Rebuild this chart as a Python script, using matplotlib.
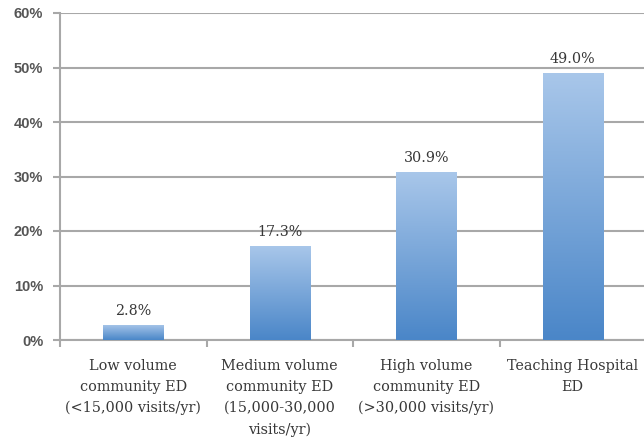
import numpy as np
import matplotlib
matplotlib.use("Agg")
import matplotlib.pyplot as plt
from matplotlib.colors import LinearSegmentedColormap

# ED categories and share of visits (%)
categories = [
    "Low volume\ncommunity ED\n(<15,000 visits/yr)",
    "Medium volume\ncommunity ED\n(15,000-30,000\nvisits/yr)",
    "High volume\ncommunity ED\n(>30,000 visits/yr)",
    "Teaching Hospital\nED",
]
values = [2.8, 17.3, 30.9, 49.0]
y_ticks = [0, 10, 20, 30, 40, 50, 60]

grad = LinearSegmentedColormap.from_list("bar_grad", ["#4a86c8", "#a9c7ea"])
grid_col = "#a8a8a8"
text_col = "#383838"
serif = ["DejaVu Serif"]

fig = plt.figure(figsize=(6.44, 4.37), dpi=100)
ax = fig.add_axes([60 / 644, 1 - 340 / 437, 586 / 644, 327 / 437])

x = np.arange(len(values))
bars = ax.bar(x, values, width=0.41, color="none", edgecolor="none", zorder=3)

# fill each bar with a vertical gradient, darker at the base
g = np.linspace(0, 1, 256).reshape(-1, 1)
for b in bars:
    x0, y0 = b.get_x(), b.get_y()
    w, h = b.get_width(), b.get_height()
    im = ax.imshow(g, cmap=grad, origin="lower", aspect="auto",
                   extent=[x0, x0 + w, y0, y0 + h], zorder=3)
    im.set_clip_path(b)

for xi, v in zip(x, values):
    ax.text(xi, v + 1.3, f"{v:.1f}%", ha="center", va="bottom",
            fontsize=10.3, family=serif, color=text_col, zorder=4)

ax.set_xlim(-0.5, len(values) - 0.5)
ax.set_ylim(0, 60)
ax.set_yticks(y_ticks)
ax.set_yticklabels([f"{t}%" for t in y_ticks], fontsize=10.5, color="#555555",
                   family=["Liberation Sans", "DejaVu Sans"], weight="bold")
ax.yaxis.grid(True, color=grid_col, linewidth=1.5, zorder=0)
ax.set_axisbelow(True)
ax.tick_params(axis="y", length=5, width=1.5, color=grid_col, pad=7)

# category ticks sit on the boundaries between groups
ax.set_xticks(np.arange(len(values) + 1) - 0.5)
ax.set_xticklabels([])
ax.set_xticks(x, minor=True)
ax.set_xticklabels(categories, minor=True, fontsize=10.4, family=serif,
                   color=text_col, linespacing=1.64)
ax.tick_params(axis="x", which="major", length=5, width=1.5, color=grid_col)
ax.tick_params(axis="x", which="minor", length=0, pad=13.5)

for side in ("top", "right"):
    ax.spines[side].set_visible(False)
for side in ("left", "bottom"):
    ax.spines[side].set_color(grid_col)
    ax.spines[side].set_linewidth(1.5)

fig.savefig("out.png", dpi=100)
